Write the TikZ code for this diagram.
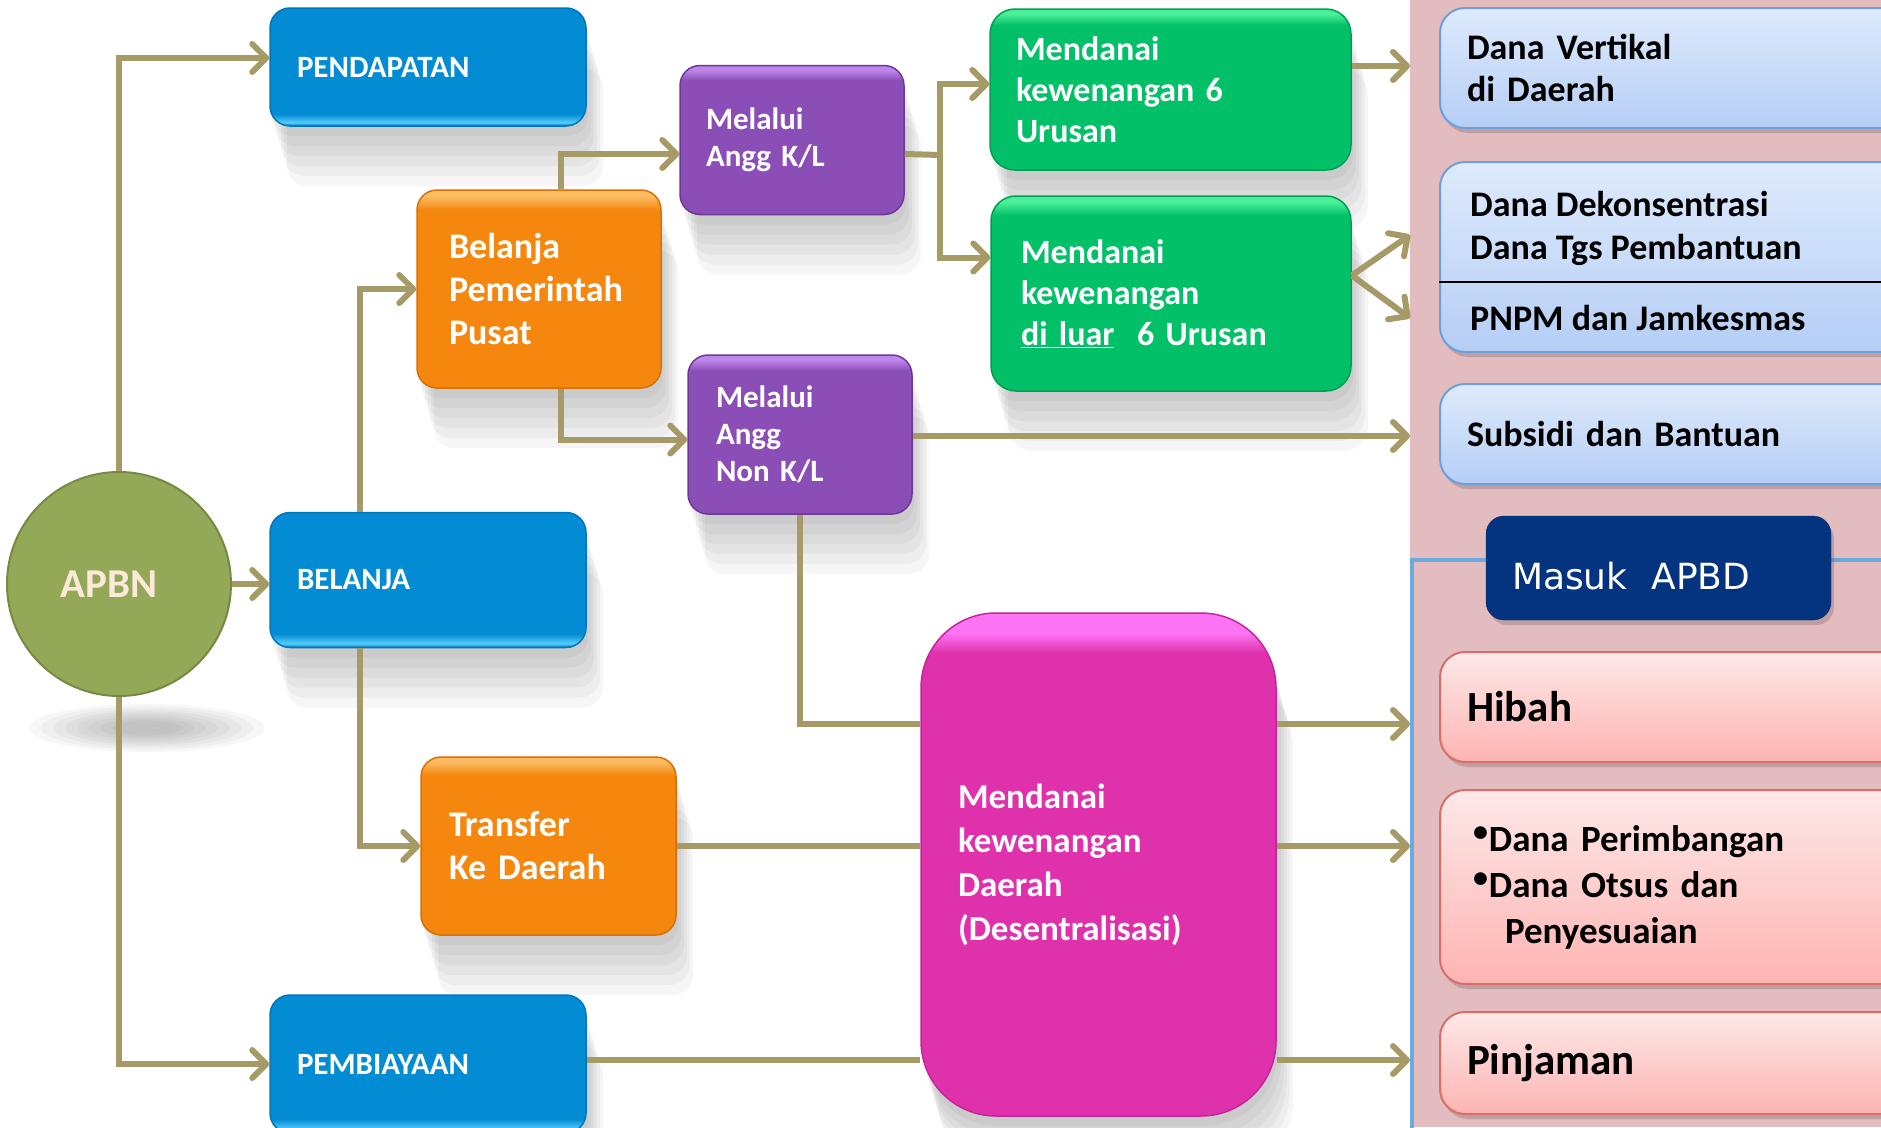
\documentclass[tikz,border=0pt]{standalone}
\usepackage{fontspec}
\setmainfont{Carlito}
\newfontfamily\apbdfont{DejaVu Sans}
\usetikzlibrary{arrows.meta,shadows}

\definecolor{arrowc}{RGB}{166,155,103}
\definecolor{bluebase}{RGB}{3,139,212}
\definecolor{bluehl}{RGB}{85,205,252}
\definecolor{bluedraw}{RGB}{2,118,186}
\definecolor{orbase}{RGB}{245,135,15}
\definecolor{orhl}{RGB}{253,188,98}
\definecolor{ordraw}{RGB}{214,112,8}
\definecolor{purbase}{RGB}{139,78,182}
\definecolor{purhl}{RGB}{190,135,235}
\definecolor{purdraw}{RGB}{108,58,148}
\definecolor{grbase}{RGB}{2,192,104}
\definecolor{grhl}{RGB}{75,240,155}
\definecolor{grdraw}{RGB}{0,158,84}
\definecolor{pkbase}{RGB}{223,49,172}
\definecolor{pkhl}{RGB}{255,115,245}
\definecolor{pkdraw}{RGB}{196,38,152}
\definecolor{apbnc}{RGB}{147,169,87}
\definecolor{apbndraw}{RGB}{118,138,68}
\definecolor{apbntext}{RGB}{253,233,217}
\definecolor{apbdc}{RGB}{4,52,128}
\definecolor{rbtop}{RGB}{222,234,252}
\definecolor{rbbot}{RGB}{181,206,245}
\definecolor{rbdraw}{RGB}{111,159,216}
\definecolor{rptop}{RGB}{253,232,232}
\definecolor{rpbot}{RGB}{253,180,178}
\definecolor{rpdraw}{RGB}{217,110,105}
\definecolor{panelc}{RGB}{226,188,191}
\definecolor{outlinec}{RGB}{111,168,220}

\pgfdeclareverticalshading{bluesh}{100bp}{color(0bp)=(bluedraw); color(25bp)=(bluedraw); color(26.5bp)=(bluehl); color(30bp)=(bluebase); color(100bp)=(bluebase)}
\pgfdeclareverticalshading{orsh}{100bp}{color(0bp)=(orbase); color(70bp)=(orbase); color(73.5bp)=(orhl); color(75bp)=(orhl); color(100bp)=(orhl)}
\pgfdeclareverticalshading{pursh}{100bp}{color(0bp)=(purbase); color(70bp)=(purbase); color(73.5bp)=(purhl); color(75bp)=(purhl); color(100bp)=(purhl)}
\pgfdeclareverticalshading{grsh}{100bp}{color(0bp)=(grbase); color(70bp)=(grbase); color(73.5bp)=(grhl); color(75bp)=(grhl); color(100bp)=(grhl)}
\pgfdeclareverticalshading{pksh}{100bp}{color(0bp)=(pkbase); color(71bp)=(pkbase); color(73bp)=(pkhl); color(75bp)=(pkhl); color(100bp)=(pkhl)}

\newcommand\bul{\raisebox{10pt}{\fontsize{30}{30}\selectfont•}\hspace{1pt}}

\tikzset{
  softshadow/.style={
    general shadow={fill=black,opacity=.035,shadow xshift=2pt,shadow yshift=-10pt},
    general shadow={fill=black,opacity=.035,shadow xshift=5pt,shadow yshift=-20pt},
    general shadow={fill=black,opacity=.035,shadow xshift=8pt,shadow yshift=-30pt},
    general shadow={fill=black,opacity=.035,shadow xshift=11pt,shadow yshift=-40pt},
    general shadow={fill=black,opacity=.035,shadow xshift=14pt,shadow yshift=-50pt},
    general shadow={fill=black,opacity=.035,shadow xshift=17pt,shadow yshift=-60pt}},
  rshadow/.style={general shadow={fill=black,opacity=.15,shadow xshift=3pt,shadow yshift=-5pt}},
  box/.style={rounded corners=20pt, text=white, align=left, line width=1.5pt,
    font=\bfseries\fontsize{31}{37}\selectfont, inner xsep=27pt, inner ysep=0pt, softshadow},
  bluebox/.style={box, shade, shading=bluesh, draw=bluedraw, text width=262pt},
  orbox/.style={box, shade, shading=orsh, draw=ordraw, font=\bfseries\fontsize{36}{43}\selectfont},
  purbox/.style={box, shade, shading=pursh, draw=purdraw},
  grbox/.style={box, rounded corners=25pt, shade, shading=grsh, draw=grdraw, font=\bfseries\fontsize{34}{41}\selectfont},
  pkbox/.style={box, rounded corners=75pt, shade, shading=pksh, draw=pkdraw, font=\bfseries\fontsize{35}{44}\selectfont},
  rbox/.style={rounded corners=25pt, draw=rbdraw, line width=2pt, top color=rbtop, bottom color=rbbot,
    align=left, font=\bfseries\fontsize{36}{42}\selectfont, inner xsep=27pt, inner ysep=0pt, text width=416pt, rshadow},
  rpbox/.style={rbox, draw=rpdraw, top color=rptop, bottom color=rpbot, font=\bfseries\fontsize{43}{46}\selectfont},
  rtext/.style={anchor=west, inner sep=0pt, align=left, font=\bfseries\fontsize{36}{43}\selectfont},
  flow/.style={draw=arrowc, line width=6pt, -{Straight Barb[length=14pt,width=28pt,round]}},
  link/.style={draw=arrowc, line width=6pt}
}

\begin{document}
\begin{tikzpicture}[x=1pt,y=-1pt]
\useasboundingbox (0,0) rectangle (1881,1127);
\clip (0,0) rectangle (1881,1127);
\fill[white] (0,0) rectangle (1881,1127);

\node[fill=panelc, minimum width=471pt, minimum height=1127pt, inner sep=0pt, outer sep=0pt] (panel) at (1645.5,563.5) {};
\draw[outlinec, line width=4pt] (1412,560) rectangle (1900,1140);

\foreach \s in {1,0.9,0.8,0.7,0.6,0.5,0.4,0.3}
  \fill[black, opacity=.03] (147,728) ellipse [x radius=\s*118pt, y radius=\s*24pt];
\node[circle, fill=apbnc, draw=apbndraw, line width=2pt, minimum size=224pt, inner sep=0pt,
  text=apbntext, font=\bfseries\fontsize{41}{41}\selectfont] (apbn) at (119,584) {\hspace*{-20pt}APBN};

\node[bluebox, minimum height=118pt] (pend) at (428,67) {PENDAPATAN};
\node[grbox, text width=309pt, inner xsep=26pt, minimum height=161pt] (g1) at (1170.5,89.5) {Mendanai\\kewenangan 6\\Urusan};
\node[purbox, text width=172pt, inner xsep=26pt, minimum height=149pt] (kl) at (792,140) {Melalui\\Angg K/L};
\node[orbox, text width=180pt, inner xsep=32pt, minimum height=198pt] (bpp) at (539,289) {Belanja\\Pemerintah\\Pusat};
\node[grbox, text width=300pt, inner xsep=30pt, minimum height=195pt] (g2) at (1171,293.5) {Mendanai\\kewenangan\\\underline{di luar}~ 6 Urusan};
\node[purbox, text width=168pt, inner xsep=28pt, minimum height=159pt] (nkl) at (800,434.5) {Melalui\\Angg\\Non K/L};
\node[bluebox, minimum height=135pt] (bel) at (428,580) {BELANJA};
\node[pkbox, text width=281pt, inner xsep=37pt, minimum height=503pt] (pink) at (1098.5,864.5) {Mendanai\\kewenangan\\Daerah\\(Desentralisasi)};
\node[orbox, text width=199pt, inner xsep=28pt, minimum height=178pt] (trans) at (548.5,846) {Transfer\\Ke Daerah};
\node[bluebox, minimum height=138pt] (pemb) at (428,1064) {PEMBIAYAAN};

\node[rbox, minimum height=120pt] (dv) at (1675,68) {Dana Vertikal\\di Daerah};
\node[rbox, minimum height=190pt] (dekon) at (1675,257) {};
\node[rtext] (dekontxt) at (1470,228) {Dana Dekonsentrasi\\Dana Tgs Pembantuan};
\node[rtext] (pnpm) at (1470,318) {PNPM dan Jamkesmas};
\draw[line width=2pt] (dekon.west |- 0,282) -- (dekon.east |- 0,282);
\node[rbox, minimum height=100pt] (sub) at (1675,434) {Subsidi dan Bantuan};
\node[rounded corners=18pt, fill=apbdc, draw=apbdc!80!black, text=white, align=left,
  font=\apbdfont\fontsize{36}{40}\selectfont, inner xsep=26pt, inner ysep=0pt,
  text width=293pt, minimum height=104pt, rshadow] (apbd) at (1658.5,568) {\raisebox{-21pt}[0pt][0pt]{Masuk\ \ APBD}};
\node[rpbox, minimum height=110pt] (hib) at (1675,707) {Hibah};
\node[rpbox, inner xsep=33pt, text width=404pt, minimum height=194pt,
  font=\bfseries\fontsize{37}{46}\selectfont] (per) at (1675,887) {\bul Dana Perimbangan\\\bul Dana Otsus dan\\\hspace*{32pt}Penyesuaian};
\node[rpbox, minimum height=102pt] (pin) at (1675,1063) {Pinjaman};

\coordinate (jkl) at (940,155);
\coordinate (eDV) at (1410,66);
\coordinate (eDK) at (1410,235);
\coordinate (ePN) at (1410,318);
\coordinate (eSB) at (1410,436);
\coordinate (eHB) at (1410,724);
\coordinate (ePR) at (1410,846);
\coordinate (ePJ) at (1410,1060);

\draw[flow] (apbn.north) |- ([yshift=9pt]pend.west);
\draw[flow] (apbn.east) -- (apbn.east -| bel.west);
\draw[flow] (apbn.south) |- (pemb.west);
\draw[flow] ([xshift=91pt]bel.north west) |- (bpp.west);
\draw[flow] ([xshift=91pt]bel.south west) |- (trans.west);
\draw[flow] ([xshift=145pt]bpp.north west) |- ([yshift=-14pt]kl.west);
\draw[flow] ([xshift=145pt]bpp.south west) |- ([yshift=-5pt]nkl.west);
\draw[link] ([yshift=-14pt]kl.east) -- (jkl);
\draw[flow] (jkl) |- ([yshift=5.5pt]g1.west);
\draw[flow] (jkl) |- ([yshift=36pt]g2.west);
\draw[flow] (g1.east |- eDV) -- (eDV);
\draw[flow] ([yshift=18pt]g2.east) -- (eDK);
\draw[flow] ([yshift=18pt]g2.east) -- (ePN);
\draw[flow] (nkl.east |- eSB) -- (eSB);
\draw[link] (nkl.south) |- (pink.west |- eHB);
\draw[flow] (pink.east |- eHB) -- (eHB);
\draw[link] (trans.east) -- (pink.west |- trans.east);
\draw[flow] (pink.east |- ePR) -- (ePR);
\draw[link] (pemb.east |- ePJ) -- (pink.west |- ePJ);
\draw[flow] (pink.east |- ePJ) -- (ePJ);
\end{tikzpicture}
\end{document}
